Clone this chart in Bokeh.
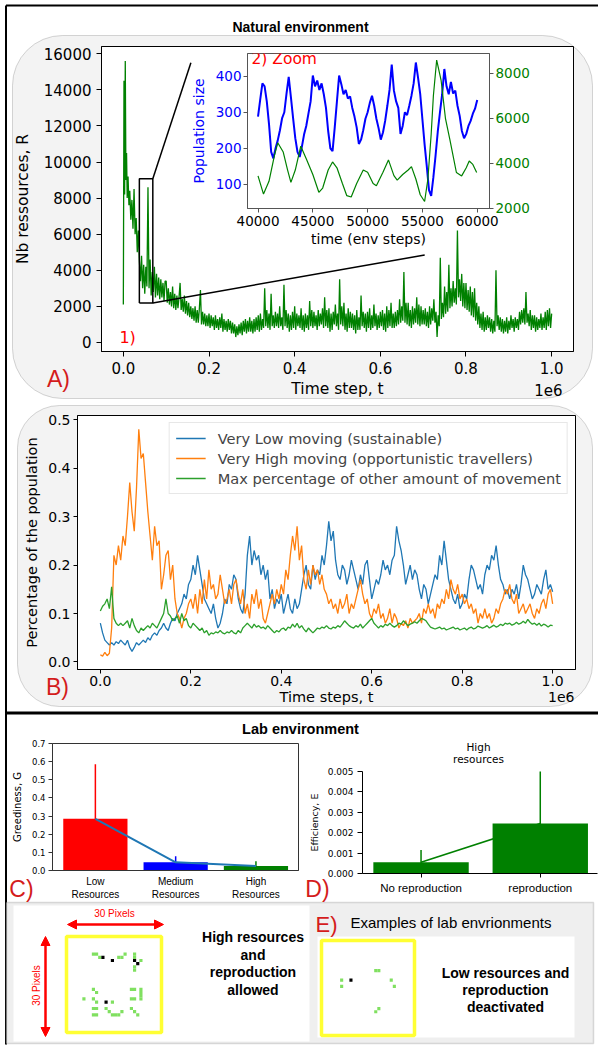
from bokeh.plotting import figure
from bokeh.models import (Range1d, LinearAxis, Label, FixedTicker, BoxAnnotation, Arrow,
                          NormalHead, BasicTickFormatter, NumeralTickFormatter)
from bokeh.embed import file_html
from bokeh.resources import INLINE

# ---------------- DATA ----------------
# Panel A: resources in the natural environment
a_t_early = [0, 1500, 3000, 4500, 6000, 7500, 9000, 11000, 13000, 15000, 17500, 20000,
             22500, 25000, 27500, 30000, 32500, 35000, 37500, 40000, 42500, 45000, 47500]
a_r_early = [2100, 14500, 8200, 15600, 9000, 10500, 8000, 9200, 7600, 8400, 6800, 7900,
             6300, 8500, 6000, 6900, 5000, 6200, 4500, 3400, 4800, 3000, 4300]
a_t_step = list(range(50000, 1000001, 2500))
a_r_step = [
    2700, 4200, 3100, 8600, 3000, 4600, 2600, 3900, 2800, 4200, 2500, 3800, 2600, 3600, 2400, 3500, 2500, 3300, 2300, 3400,
    3400, 2200, 3000, 2100, 2800, 2000, 3100, 1900, 2700, 1800, 2600, 1900, 2500, 3300, 1800, 2400, 1700, 2600, 1600, 2300,
    1500, 2200, 1400, 2000, 1300, 1900, 1200, 2000, 1100, 1800, 1100, 1900, 2900, 1000, 1700, 1000, 1600, 900, 1500, 900,
    1600, 800, 1500, 900, 1400, 700, 1500, 800, 1300, 700, 1400, 800, 1600, 600, 1300, 700, 1200, 600, 1300, 700,
    1200, 500, 1100, 500, 1000, 300, 900, 400, 1000, 500, 1100, 400, 1200, 600, 1300, 500, 1200, 600, 1400, 600,
    1200, 500, 1300, 600, 1400, 700, 1500, 600, 1600, 700, 1300, 800, 3000, 900, 1800, 800, 1600, 700, 2700, 900,
    1500, 800, 1700, 900, 1600, 800, 2000, 900, 1400, 700, 3200, 900, 1800, 800, 1600, 600, 1500, 700, 1700, 800,
    2000, 700, 1600, 900, 1500, 800, 1900, 700, 1500, 600, 1600, 800, 1500, 700, 2300, 900, 1800, 800, 1700, 900,
    1500, 700, 1800, 900, 1600, 1000, 1900, 800, 2500, 900, 1800, 800, 1900, 600, 1600, 700, 1700, 1000, 2100, 900,
    1600, 700, 3500, 1000, 2000, 900, 2200, 700, 1600, 600, 1900, 800, 1700, 800, 1600, 700, 1500, 500, 1800, 700,
    1400, 700, 2600, 900, 1700, 800, 1600, 600, 1700, 800, 1900, 700, 1500, 800, 2100, 900, 1600, 700, 1500, 800,
    1700, 900, 1800, 700, 1600, 600, 2000, 800, 1800, 900, 2200, 800, 1600, 800, 1700, 900, 1800, 1000, 2400, 1100,
    2000, 1200, 3900, 1100, 2200, 1000, 2200, 900, 1800, 800, 2000, 1000, 1900, 1100, 2500, 1000, 2100, 900, 2000, 1000,
    1800, 1000, 1900, 900, 1700, 800, 2000, 1000, 1900, 1200, 2400, 1100, 1700, 300, 1500, 900, 4700, 1300, 2200, 1400,
    3100, 1600, 2800, 1700, 4300, 1900, 3000, 2000, 3400, 2200, 3000, 2100, 6200, 2500, 3500, 2300, 3800, 2000, 3300, 1900,
    3300, 1800, 2900, 1700, 3100, 1500, 2800, 1400, 3000, 1200, 2200, 1000, 2000, 800, 1600, 700, 1700, 600, 1400, 700,
    1500, 800, 1400, 600, 1300, 500, 1200, 600, 4000, 900, 1500, 700, 1400, 600, 1300, 500, 1200, 600, 1400, 500,
    1200, 700, 1500, 800, 1300, 600, 1400, 800, 1300, 700, 1700, 1000, 1800, 1100, 1900, 1000, 2800, 1100, 1600, 900,
    1800, 700, 1500, 800, 1500, 600, 1400, 700, 1300, 800, 1600, 700, 1400, 800, 1700, 700, 1800, 900, 1900, 800,
    1600]
a_t = a_t_early + a_t_step
a_r = a_r_early + a_r_step

# zoomed window drawn on panel A, and the two connector lines
zoom_t = [37400, 68800]
zoom_r = [2190, 9070]
conn_t = [[68800, 157700], [68800, 703600]]
conn_r = [[9070, 15500], [2190, 4850]]

# Inset: population (blue) and resources (green)
ins_pop_t = list(range(40000, 60001, 200))
ins_pop = [288, 335, 380, 372, 330, 268, 190, 172, 200, 222,
           250, 284, 300, 352, 398, 342, 284, 228, 190, 176,
           204, 238, 262, 296, 330, 402, 372, 388, 362, 380,
           350, 312, 248, 200, 192, 258, 330, 402, 378, 350,
           362, 338, 344, 312, 288, 258, 212, 224, 250, 282,
           300, 326, 346, 318, 282, 256, 224, 244, 276, 318,
           362, 432, 360, 330, 312, 240, 262, 300, 292, 318,
           346, 380, 438, 396, 350, 280, 210, 150, 84, 68,
           120, 180, 246, 300, 350, 420, 372, 350, 384, 352,
           360, 318, 290, 248, 228, 240, 262, 276, 296, 310,
           334]
ins_res_t = [40000, 40500, 41000, 41500, 41800, 42300, 42700, 43000, 43400, 43900,
             44400, 45000, 45550, 45900, 46400, 46800, 47200, 47700, 48100, 48500,
             49000, 49600, 50000, 50500, 50800, 51400, 51900, 52400, 52700, 53200,
             53700, 54000, 54400, 54800, 55200, 55500, 55800, 56000, 56300, 56700,
             57100, 57500, 58100, 58580, 59000, 59270, 59600, 59950]
ins_res = [3440, 2630, 3200, 4350, 4910, 4500, 3700, 3150, 3700, 4760,
           4200, 3500, 2710, 2900, 3700, 4060, 3800, 3100, 2560, 2500,
           3100, 3700, 3600, 3100, 3000, 3600, 4150, 3450, 3250, 3500,
           3700, 3850, 3300, 2600, 2300, 3300, 5300, 7000, 8590, 7700,
           6000, 5060, 3590, 3440, 3800, 4100, 3950, 3590]

# Panel B: share of the population
b_t = list(range(0, 1000001, 5000))
b_low = [0.08, 0.06, 0.045, 0.04, 0.035, 0.04, 0.035, 0.042, 0.038, 0.045,
         0.04, 0.035, 0.045, 0.03, 0.022, 0.03, 0.04, 0.035, 0.04, 0.045,
         0.04, 0.05, 0.045, 0.055, 0.06, 0.055, 0.065, 0.07, 0.08, 0.07,
         0.065, 0.08, 0.09, 0.085, 0.1, 0.11, 0.12, 0.14, 0.13, 0.16,
         0.17, 0.2, 0.18, 0.22, 0.19, 0.16, 0.13, 0.12, 0.11, 0.1,
         0.12, 0.09, 0.07, 0.08, 0.1, 0.13, 0.12, 0.16, 0.15, 0.18,
         0.17, 0.13, 0.11, 0.1, 0.14, 0.22, 0.26, 0.2, 0.23, 0.21,
         0.22, 0.18, 0.2, 0.17, 0.19, 0.13, 0.15, 0.11, 0.13, 0.12,
         0.14, 0.1, 0.12, 0.14, 0.11, 0.1, 0.13, 0.11, 0.12, 0.15,
         0.18, 0.2, 0.16, 0.15, 0.2, 0.17, 0.19, 0.18, 0.22, 0.2,
         0.24, 0.29, 0.25, 0.27, 0.21, 0.18, 0.17, 0.2, 0.19, 0.16,
         0.18, 0.21, 0.19, 0.17, 0.15, 0.18, 0.16, 0.2, 0.21, 0.17,
         0.13, 0.15, 0.17, 0.16, 0.18, 0.21, 0.19, 0.2, 0.18, 0.21,
         0.22, 0.28, 0.25, 0.23, 0.2, 0.16, 0.18, 0.2, 0.17, 0.19,
         0.18, 0.15, 0.13, 0.16, 0.15, 0.12, 0.14, 0.16, 0.18, 0.17,
         0.22, 0.2, 0.25, 0.21, 0.17, 0.15, 0.13, 0.12, 0.14, 0.11,
         0.12, 0.14, 0.13, 0.17, 0.2, 0.19, 0.17, 0.15, 0.16, 0.14,
         0.18, 0.2, 0.19, 0.22, 0.21, 0.24, 0.2, 0.17, 0.16, 0.14,
         0.15, 0.13, 0.15, 0.14, 0.16, 0.13, 0.16, 0.2, 0.18, 0.17,
         0.15, 0.13, 0.14, 0.16, 0.15, 0.14, 0.17, 0.19, 0.15, 0.16,
         0.145]
b_high = [0.015, 0.012, 0.02, 0.013, 0.018, 0.07, 0.22, 0.2, 0.24, 0.21,
          0.26, 0.24, 0.3, 0.37, 0.31, 0.27, 0.36, 0.48, 0.42, 0.43,
          0.37, 0.31, 0.26, 0.21, 0.28, 0.24, 0.25, 0.15, 0.18, 0.22,
          0.23, 0.17, 0.2, 0.13, 0.1, 0.09, 0.07, 0.09, 0.1, 0.12,
          0.13, 0.11, 0.14, 0.1, 0.15, 0.12, 0.17, 0.13, 0.19, 0.15,
          0.16, 0.13, 0.14, 0.18, 0.15, 0.12, 0.13, 0.15, 0.12, 0.16,
          0.17, 0.14, 0.12, 0.15, 0.1, 0.12, 0.09, 0.14, 0.12, 0.15,
          0.11, 0.13, 0.09, 0.08, 0.1, 0.12, 0.14, 0.12, 0.15, 0.13,
          0.16, 0.14, 0.19, 0.17, 0.22, 0.26, 0.23, 0.28, 0.21, 0.24,
          0.17, 0.15, 0.19, 0.16, 0.2, 0.18, 0.19, 0.16, 0.18, 0.15,
          0.14, 0.12, 0.13, 0.11, 0.12, 0.1, 0.13, 0.11, 0.12, 0.14,
          0.1, 0.12, 0.11, 0.13, 0.15, 0.17, 0.14, 0.12, 0.13, 0.1,
          0.09, 0.11, 0.1, 0.12, 0.09, 0.1, 0.08, 0.09, 0.11, 0.08,
          0.1, 0.09, 0.07, 0.08, 0.075, 0.085, 0.07, 0.09, 0.08, 0.085,
          0.09, 0.1, 0.08, 0.11, 0.1, 0.12, 0.1, 0.11, 0.09, 0.12,
          0.11, 0.13, 0.12, 0.15, 0.13, 0.17, 0.15, 0.14, 0.16, 0.13,
          0.14, 0.12, 0.13, 0.11, 0.12, 0.1, 0.11, 0.08, 0.1, 0.09,
          0.11, 0.09, 0.1, 0.08, 0.09, 0.11, 0.1, 0.12, 0.13, 0.15,
          0.14, 0.16, 0.13, 0.12, 0.14, 0.1, 0.11, 0.12, 0.1, 0.11,
          0.12, 0.1, 0.09, 0.11, 0.1, 0.12, 0.13, 0.11, 0.14, 0.15,
          0.12]
b_other = [0.105, 0.115, 0.12, 0.13, 0.11, 0.155, 0.09, 0.08, 0.075, 0.08,
           0.075, 0.08, 0.085, 0.07, 0.09, 0.075, 0.065, 0.06, 0.07, 0.065,
           0.07, 0.075, 0.07, 0.08, 0.075, 0.07, 0.08, 0.09, 0.1, 0.13,
           0.1, 0.095, 0.085, 0.09, 0.095, 0.08, 0.1, 0.085, 0.09, 0.075,
           0.07, 0.08, 0.075, 0.07, 0.065, 0.07, 0.06, 0.065, 0.055, 0.06,
           0.058, 0.062, 0.06, 0.065, 0.06, 0.058, 0.062, 0.06, 0.065, 0.06,
           0.058, 0.065, 0.06, 0.07, 0.075, 0.08, 0.075, 0.07, 0.078, 0.072,
           0.075, 0.07, 0.072, 0.068, 0.075, 0.07, 0.065, 0.06, 0.065, 0.062,
           0.068, 0.07, 0.065, 0.072, 0.07, 0.078, 0.072, 0.08, 0.07, 0.075,
           0.068, 0.062, 0.07, 0.065, 0.06, 0.065, 0.07, 0.068, 0.072, 0.07,
           0.075, 0.07, 0.068, 0.072, 0.07, 0.075, 0.072, 0.078, 0.085, 0.08,
           0.075, 0.072, 0.07, 0.075, 0.072, 0.078, 0.07, 0.075, 0.08, 0.085,
           0.09, 0.08, 0.075, 0.07, 0.075, 0.072, 0.078, 0.075, 0.08, 0.075,
           0.072, 0.075, 0.08, 0.078, 0.085, 0.08, 0.075, 0.078, 0.08, 0.083,
           0.08, 0.085, 0.09, 0.088, 0.085, 0.078, 0.072, 0.07, 0.068, 0.07,
           0.072, 0.068, 0.07, 0.066, 0.068, 0.07, 0.072, 0.068, 0.07, 0.066,
           0.068, 0.07, 0.066, 0.07, 0.072, 0.068, 0.07, 0.074, 0.072, 0.07,
           0.072, 0.075, 0.07, 0.073, 0.076, 0.072, 0.074, 0.078, 0.075, 0.08,
           0.078, 0.08, 0.076, 0.078, 0.082, 0.078, 0.08, 0.084, 0.08, 0.088,
           0.082, 0.078, 0.08, 0.076, 0.08, 0.074, 0.078, 0.076, 0.072, 0.076,
           0.075]
b_labels = ["Very Low moving (sustainable)",
            "Very High moving (opportunistic travellers)",
            "Max percentage of other amount of movement"]

# Panel C: greediness
c_pos = [0, 1, 2]
c_labels = ["Low\nResources", "Medium\nResources", "High\nResources"]
c_vals = [0.285, 0.045, 0.025]
c_err = [0.30, 0.034, 0.026]
c_colors = ["#ff0000", "#0000ff", "#008000"]

# Panel D: efficiency
d_pos = [0, 1]
d_labels = ["No reproduction", "reproduction"]
d_vals = [0.00055, 0.00245]
d_err = [0.0006, 0.0035]

# Panel E: lab grids (30 x 30 cells; column, row)
gl_green_c = [8, 9, 10, 16, 17, 18, 21, 21, 23, 21, 21, 8, 9, 5, 8, 9, 14, 8, 9, 8, 9,
              12, 13, 14, 15, 16, 17, 20, 21, 22, 20, 21, 23, 23, 23, 23, 20, 21]
gl_green_r = [5, 5, 6, 6, 6, 5, 5, 6, 7, 9, 10, 16, 17, 19, 19, 20, 20, 22, 22, 24, 24,
              22, 23, 24, 24, 24, 23, 22, 23, 24, 16, 16, 16, 17, 18, 19, 19, 19]
gl_black_c = [11, 14, 21, 22, 12]
gl_black_r = [6, 7, 7, 8, 20]
gr_green_c = [17, 18, 6, 6, 22, 23, 18, 17]
gr_green_r = [9, 9, 12, 14, 12, 14, 21, 22]
gr_black_c = [9]
gr_black_r = [12]

# ---------------- HELPERS ----------------
DJ = "DejaVu Sans"
AR = "Liberation Sans"
RED = "#d41c1c"


def place(p, x, y, w, h):
    p.styles = {"position": "absolute", "left": f"{x}px", "top": f"{y}px",
                "width": f"{w}px", "height": f"{h}px"}


def panel(fx, fy, fw, fh, bl, br, bt, bb, **kw):
    w, h = bl + fw + br, bt + fh + bb
    p = figure(width=w, height=h, min_border_left=bl, min_border_right=br,
               min_border_top=bt, min_border_bottom=bb, output_backend="svg",
               toolbar_location=None, border_fill_alpha=0, **kw)
    place(p, fx - bl, fy - bt, w, h)
    p.grid.visible = False
    return p


def style_axis(ax, size, font=DJ, color="black", tick_out=4, standoff=4,
               label_size=None, label_standoff=5, label_color=None, line_color="black"):
    ax.major_tick_out = int(round(tick_out))
    ax.major_tick_in = 0
    ax.minor_tick_out = 0
    ax.minor_tick_in = 0
    ax.major_label_text_font = font
    ax.major_label_text_font_size = f"{size}px"
    ax.major_label_text_color = color
    ax.major_label_standoff = int(round(standoff))
    ax.axis_label_text_font = font
    ax.axis_label_text_font_size = f"{label_size or size}px"
    ax.axis_label_text_font_style = "normal"
    ax.axis_label_text_color = label_color or "black"
    ax.axis_label_standoff = int(round(label_standoff))
    ax.axis_line_color = line_color
    ax.major_tick_line_color = line_color


def lab(p, x, y, text, size, color="black", font=AR, style="normal", align="center",
        angle=0, **kw):
    p.add_layout(Label(x=x, y=y, text=text, text_font=font, text_font_size=f"{size}px",
                       text_color=color, text_font_style=style, text_align=align,
                       text_baseline="middle", angle=angle, angle_units="deg", **kw))


# ---------------- BACKDROP ----------------
bg = figure(width=598, height=1046, x_range=Range1d(0, 598), y_range=Range1d(1046, 0),
            min_border=0, min_border_left=0, min_border_right=0, min_border_top=0,
            min_border_bottom=0, x_axis_type=None, y_axis_type=None, output_backend="svg",
            toolbar_location=None, outline_line_color=None, background_fill_color="white",
            border_fill_color="white")
place(bg, 0, 0, 598, 1046)
bg.grid.visible = False
bg.add_layout(BoxAnnotation(left=12, right=592, top=35, bottom=398, fill_color="#f3f3f3",
                            fill_alpha=1, line_color="#777777", line_width=1, border_radius=50))
bg.add_layout(BoxAnnotation(left=17, right=592, top=405, bottom=706, fill_color="#f3f3f3",
                            fill_alpha=1, line_color="#777777", line_width=1, border_radius=42))
bg.add_layout(BoxAnnotation(left=6, right=593, top=902, bottom=1043, fill_color="#efefef",
                            fill_alpha=1, line_color="#8a8a8a", line_width=1.5))
bg.add_layout(BoxAnnotation(left=13, right=309, top=905, bottom=1041, fill_color="white",
                            fill_alpha=1, line_color=None))
bg.add_layout(BoxAnnotation(left=317, right=574, top=936, bottom=1037, fill_color="white",
                            fill_alpha=1, line_color=None))
bg.segment(x0=[5.5, 5.5], y0=[5, 5], x1=[5.5, 598], y1=[1044, 5], line_color="black", line_width=2)
bg.segment(x0=[5], y0=[712.5], x1=[598], y1=[712.5], line_color="black", line_width=3)

lab(bg, 300, 26.5, "Natural environment", 14, style="bold")
lab(bg, 300, 728, "Lab environment", 14.5, style="bold")
lab(bg, 58, 378.5, "A)", 23, color=RED)
lab(bg, 57, 686, "B)", 23, color=RED)
lab(bg, 21, 888, "C)", 23, color=RED)
lab(bg, 317, 888, "D)", 23, color=RED)
lab(bg, 326, 924, "E)", 22, color=RED)
lab(bg, 350, 922, "Examples of lab envrionments", 15, align="left")
lab(bg, 562, 389, "1e6", 15, font=DJ, align="right")
lab(bg, 574, 696, "1e6", 14, font=DJ, align="right")
lab(bg, 478, 746, "High", 10.5, font=DJ)
lab(bg, 478, 758.5, "resources", 10.5, font=DJ)
for i, t in enumerate(["High resources", "and", "reproduction", "allowed"]):
    lab(bg, 252.5, 936.5 + 17.5 * i, t, 14, style="bold")
for i, t in enumerate(["Low resources and", "reproduction", "deactivated"]):
    lab(bg, 505, 972.5 + 17 * i, t, 14, style="bold")
lab(bg, 114, 913, "30 Pixels", 10, color="#ff0000")
lab(bg, 36, 985, "30 Pixels", 10, color="#ff0000", angle=90)
bg.add_layout(Arrow(start=NormalHead(size=9, fill_color="#ff0000", line_color="#ff0000"),
                    end=NormalHead(size=9, fill_color="#ff0000", line_color="#ff0000"),
                    x_start=67, y_start=924, x_end=163, y_end=924,
                    line_color="#ff0000", line_width=2.5))
bg.add_layout(Arrow(start=NormalHead(size=9, fill_color="#ff0000", line_color="#ff0000"),
                    end=NormalHead(size=9, fill_color="#ff0000", line_color="#ff0000"),
                    x_start=45, y_start=936, x_end=45, y_end=1036,
                    line_color="#ff0000", line_width=2.5))

# ---------------- PANEL A ----------------
pA = panel(101, 46, 472, 305, 94, 22, 6, 54,
           x_range=Range1d(-51000, 1051000), y_range=Range1d(-500, 16400),
           background_fill_color="white", outline_line_color="black")
pA.line(a_t, a_r, line_color="#008000", line_width=1.3)
pA.line([zoom_t[0], zoom_t[1], zoom_t[1], zoom_t[0], zoom_t[0]],
        [zoom_r[0], zoom_r[0], zoom_r[1], zoom_r[1], zoom_r[0]], line_color="black", line_width=1.5)
pA.multi_line(conn_t, conn_r, line_color="black", line_width=1.5)
pA.add_layout(Label(x=10000, y=300, text="1)", text_font=DJ, text_font_size="16px",
                    text_color="#ff0000", text_align="center", text_baseline="middle"))
pA.xaxis.ticker = FixedTicker(ticks=[0, 200000, 400000, 600000, 800000, 1000000])
pA.xaxis.major_label_overrides = {0: "0.0", 200000: "0.2", 400000: "0.4", 600000: "0.6",
                                  800000: "0.8", 1000000: "1.0"}
pA.yaxis.ticker = FixedTicker(ticks=list(range(0, 16001, 2000)))
pA.yaxis.formatter = BasicTickFormatter(use_scientific=False)
pA.xaxis.axis_label = "Time step, t"
pA.yaxis.axis_label = "Nb ressources, R"
style_axis(pA.xaxis[0], 15, tick_out=5, standoff=5, label_size=15.5, label_standoff=3)
style_axis(pA.yaxis[0], 15, tick_out=5, standoff=5, label_size=15.5, label_standoff=9)

# ---------------- INSET ----------------
pI = panel(247, 53, 242, 155, 60, 80, 4, 48,
           x_range=Range1d(39040, 61120), y_range=Range1d(33, 463),
           background_fill_color="white", outline_line_color="#555555")
pI.extra_y_ranges = {"res": Range1d(1990, 8880)}
pI.line(ins_pop_t, ins_pop, line_color="#0000ff", line_width=2)
pI.line(ins_res_t, ins_res, line_color="#008000", line_width=1.2, y_range_name="res")
ax_r = LinearAxis(y_range_name="res", ticker=FixedTicker(ticks=[2000, 4000, 6000, 8000]))
pI.add_layout(ax_r, "right")
pI.xaxis.ticker = FixedTicker(ticks=[40000, 45000, 50000, 55000, 60000])
pI.xaxis.formatter = BasicTickFormatter(use_scientific=False)
pI.yaxis[0].ticker = FixedTicker(ticks=[100, 200, 300, 400])
pI.xaxis.axis_label = "time (env steps)"
pI.yaxis[0].axis_label = "Population size"
style_axis(pI.xaxis[0], 13.5, tick_out=4, standoff=3, label_size=14, label_standoff=2,
           line_color="#555555")
style_axis(pI.yaxis[0], 13.5, color="#0000ff", tick_out=4, standoff=2, label_size=14,
           label_standoff=6, label_color="#0000ff", line_color="#555555")
style_axis(ax_r, 13.5, color="#008000", tick_out=4, standoff=2, line_color="#555555")
# right-hand axis title (two lines, reading upwards like the reference)
lab(pI, 65700, 241, "Resources amount", 14, color="#008000", font=DJ, angle=90)
lab(pI, 67350, 241, "in the env", 14, color="#008000", font=DJ, angle=90)
pI.add_layout(Label(x=39400, y=448, text="2) Zoom", text_font=DJ, text_font_size="15.5px",
                    text_color="#ff0000", text_align="left", text_baseline="middle"))

# ---------------- PANEL B ----------------
pB = panel(77, 415, 498, 254, 66, 18, 6, 44,
           x_range=Range1d(-50500, 1050500), y_range=Range1d(-0.0155, 0.5085),
           background_fill_color="white", outline_line_color="black")
pB.line(b_t, b_low, line_color="#1f77b4", line_width=1.3, legend_label=b_labels[0])
pB.line(b_t, b_high, line_color="#ff7f0e", line_width=1.3, legend_label=b_labels[1])
pB.line(b_t, b_other, line_color="#2ca02c", line_width=1.3, legend_label=b_labels[2])
pB.xaxis.ticker = FixedTicker(ticks=[0, 200000, 400000, 600000, 800000, 1000000])
pB.xaxis.major_label_overrides = {0: "0.0", 200000: "0.2", 400000: "0.4", 600000: "0.6",
                                  800000: "0.8", 1000000: "1.0"}
pB.yaxis.ticker = FixedTicker(ticks=[0, 0.1, 0.2, 0.3, 0.4, 0.5])
pB.yaxis.formatter = NumeralTickFormatter(format="0.0")
pB.xaxis.axis_label = "Time steps, t"
pB.yaxis.axis_label = "Percentage of the population"
style_axis(pB.xaxis[0], 14, tick_out=4, standoff=2, label_size=14.5, label_standoff=0)
style_axis(pB.yaxis[0], 14, tick_out=4, standoff=3, label_size=14.5, label_standoff=5)
lg = pB.legend[0]
lg.location = "top_right"
lg.label_text_font = DJ
lg.label_text_font_size = "14.6px"
lg.glyph_width = 30
lg.glyph_height = 18
lg.label_standoff = 12
lg.label_height = 18
lg.spacing = 2
lg.padding = 6
lg.margin = 7
lg.border_line_color = "#d0d0d0"
lg.background_fill_alpha = 0.85

# ---------------- PANEL C ----------------
pC = panel(52, 743, 246, 127, 47, 4, 5, 34,
           x_range=Range1d(-0.534, 2.53), y_range=Range1d(0, 0.7),
           background_fill_color="white", outline_line_color="#333333")
pC.vbar(x=c_pos, top=c_vals, width=0.8, fill_color=c_colors, line_color=None)
pC.segment(x0=c_pos, y0=[v - e for v, e in zip(c_vals, c_err)], x1=c_pos,
           y1=[v + e for v, e in zip(c_vals, c_err)], line_color=c_colors, line_width=1.5)
pC.line(c_pos, c_vals, line_color="#1f77b4", line_width=2)
pC.xaxis.ticker = FixedTicker(ticks=c_pos)
pC.xaxis.major_label_overrides = {p: l for p, l in zip(c_pos, c_labels)}
pC.yaxis.ticker = FixedTicker(ticks=[0, 0.1, 0.2, 0.3, 0.4, 0.5, 0.6, 0.7])
pC.yaxis.formatter = NumeralTickFormatter(format="0.0")
pC.yaxis.axis_label = "Greediness, G"
style_axis(pC.xaxis[0], 10, font=AR, tick_out=0, standoff=5, line_color="#333333")
style_axis(pC.yaxis[0], 8.5, tick_out=4, standoff=3, label_size=10, label_standoff=6,
           line_color="#333333")

# ---------------- PANEL D ----------------
pD = panel(359, 771, 238, 102, 54, 1, 5, 30,
           x_range=Range1d(-0.491, 1.48), y_range=Range1d(0, 0.005),
           background_fill_color="white", outline_line_color=None)
pD.line(d_pos, d_vals, line_color="#008000", line_width=1.5)
pD.vbar(x=d_pos, top=d_vals, width=0.8, fill_color="#008000", line_color=None)
pD.segment(x0=d_pos, y0=[v - e for v, e in zip(d_vals, d_err)], x1=d_pos,
           y1=[v + e for v, e in zip(d_vals, d_err)], line_color="#008000", line_width=1.5)
pD.xaxis.ticker = FixedTicker(ticks=d_pos)
pD.xaxis.major_label_overrides = {p: l for p, l in zip(d_pos, d_labels)}
pD.yaxis.ticker = FixedTicker(ticks=[0, 0.001, 0.002, 0.003, 0.004, 0.005])
pD.yaxis.formatter = NumeralTickFormatter(format="0.000")
pD.yaxis.axis_label = "Efficiency, E"
style_axis(pD.xaxis[0], 11.5, font=AR, tick_out=4, standoff=4)
style_axis(pD.yaxis[0], 9, tick_out=5, standoff=4, label_size=9.5, label_standoff=5)


# ---------------- PANEL E grids ----------------
def grid_fig(fx, fy, fw, fh, gc, gr, kc, kr):
    g = panel(fx, fy, fw, fh, 3, 3, 3, 3, x_range=Range1d(0, 30), y_range=Range1d(30, 0),
              x_axis_type=None, y_axis_type=None, background_fill_color="white",
              outline_line_color="#ffff33", outline_line_width=3.5)
    g.rect(x=[c + 0.5 for c in gc], y=[r + 0.5 for r in gr], width=1, height=1,
           fill_color="#80e060", line_color=None)
    g.rect(x=[c + 0.5 for c in kc], y=[r + 0.5 for r in kr], width=1, height=1,
           fill_color="black", line_color=None)
    return g


gL = grid_fig(65.5, 935.5, 95, 96, gl_green_c, gl_green_r, gl_black_c, gl_black_r)
gR = grid_fig(321, 940, 93, 95, gr_green_c, gr_green_r, gr_black_c, gr_black_r)

open("out.html", "w").write(file_html([bg, pA, pI, pB, pC, pD, gL, gR], INLINE))
